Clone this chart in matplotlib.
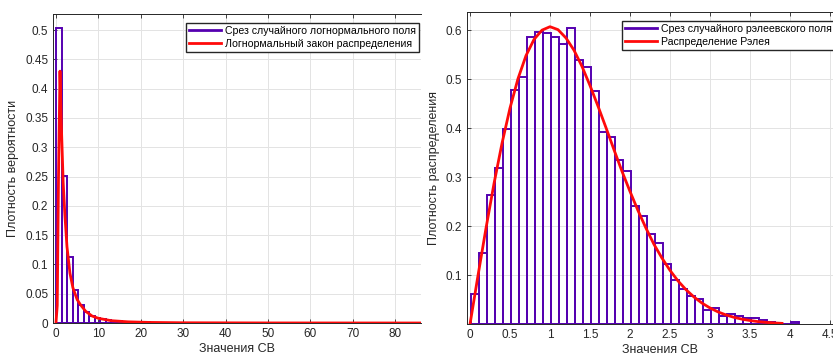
import numpy as np
import matplotlib
matplotlib.use("Agg")
from matplotlib import pyplot as plt
from matplotlib.lines import Line2D

plt.rcParams['font.family'] = ['Liberation Sans', 'DejaVu Sans']

# lognormal slice histogram (bin start, bin width, heights)
logn_start = 0.05
logn_width = 1.3
logn_heights = [0.503, 0.251, 0.113, 0.056, 0.031, 0.019, 0.012, 0.009, 0.006, 0.0045,
                0.0035, 0.0028, 0.0022, 0.0018, 0.0014, 0.0012, 0.001, 0.0008, 0.0006, 0.0005,
                0.0004, 0.0003, 0.0003, 0.0002, 0.0002, 0.0001, 0.0001, 0.0001]

# lognormal pdf
logn_x = [0, 0.3, 0.6, 0.95, 1.3, 1.7, 2.1, 2.6, 3.3, 4.0, 5.0, 5.7, 7.0, 8.5, 10, 13, 17, 22, 30, 50, 86]
logn_y = [0, 0.03, 0.25, 0.43, 0.33, 0.24, 0.185, 0.13, 0.085, 0.06, 0.04, 0.032, 0.02, 0.012,
          0.008, 0.004, 0.002, 0.001, 0.0004, 0.0001, 0]

# rayleigh slice histogram
ray_start = 0.0125
ray_width = 0.1
ray_heights = [0.061, 0.146, 0.264, 0.318, 0.399, 0.478, 0.505, 0.586, 0.596, 0.594,
               0.586, 0.571, 0.605, 0.539, 0.525, 0.475, 0.393, 0.383, 0.335, 0.313,
               0.241, 0.220, 0.184, 0.165, 0.124, 0.091, 0.072, 0.058, 0.052, 0.030,
               0.033, 0.016, 0.020, 0.016, 0.013, 0.013, 0.009, 0.004, 0.0, 0.0, 0.005]

# rayleigh pdf
ray_x = [0, 0.1, 0.2, 0.3, 0.4, 0.5, 0.6, 0.7, 0.8, 0.9, 1.0, 1.1, 1.2, 1.3, 1.4, 1.5, 1.6, 1.7,
         1.8, 1.9, 2.0, 2.1, 2.2, 2.3, 2.4, 2.5, 2.6, 2.7, 2.8, 2.9, 3.0, 3.1, 3.2, 3.3, 3.4, 3.5,
         3.6, 3.7, 3.8, 3.9]
ray_y = [0, 0.0995, 0.196, 0.287, 0.369, 0.441, 0.501, 0.548, 0.581, 0.600, 0.607, 0.601, 0.584,
         0.559, 0.526, 0.487, 0.445, 0.401, 0.356, 0.312, 0.271, 0.232, 0.196, 0.163, 0.135,
         0.110, 0.0885, 0.0706, 0.0556, 0.0432, 0.0333, 0.0253, 0.0191, 0.0142, 0.0105, 0.0077,
         0.0055, 0.0039, 0.0028, 0.0019]

purple = '#5500b0'
red = '#ff0a0a'
W, H = 833, 358

fig = plt.figure(figsize=(W / 100, H / 100), dpi=100)

def style(ax):
    ax.grid(True, color='#e3e3e3', linewidth=0.7)
    ax.set_axisbelow(True)
    for s in ax.spines.values():
        s.set_color('#262626')
        s.set_linewidth(0.7)
    ax.tick_params(direction='in', length=3, width=0.6, colors='#262626',
                   labelsize=8.5, top=True, right=True)

ax1 = fig.add_axes([53 / W, (H - 323) / H, (421 - 53) / W, (323 - 14.3) / H])
style(ax1)
ax1.spines['right'].set_visible(False)
ax1.tick_params(right=False)
edges1 = logn_start + logn_width * np.arange(len(logn_heights))
ax1.bar(edges1, logn_heights, width=logn_width, align='edge', fill=False,
        edgecolor=purple, linewidth=1.4)
ax1.plot(logn_x, logn_y, color=red, linewidth=2)
ax1.set_xlim(-0.7, 86.1)
ax1.set_ylim(0, 0.527)
ax1.set_xticks(np.arange(0, 90, 10))
ax1.set_yticks(np.arange(0, 0.51, 0.05))
ax1.set_yticklabels(['0', '0.05', '0.1', '0.15', '0.2', '0.25', '0.3', '0.35', '0.4', '0.45', '0.5'])
ax1.set_xlabel('Значения СВ', fontsize=9, color='#262626', labelpad=2)
ax1.set_ylabel('Плотность вероятности', fontsize=9, color='#262626', labelpad=4)

h = [Line2D([], [], color=purple, linewidth=2), Line2D([], [], color=red, linewidth=2)]
ax1.legend(h, ['Срез случайного логнормального поля', 'Логнормальный закон распределения'],
           loc='upper left', bbox_to_anchor=(186 / W, 1 - 23 / H), bbox_transform=fig.transFigure,
           borderaxespad=0, fancybox=False, framealpha=1, edgecolor='#262626', fontsize=7.6,
           handlelength=3, borderpad=0.3, labelspacing=0.25, handletextpad=0.4)

ax2 = fig.add_axes([467 / W, (H - 324.3) / H, (852 - 467) / W, (324.3 - 12) / H])
style(ax2)
edges2 = ray_start + ray_width * np.arange(len(ray_heights))
ax2.bar(edges2, ray_heights, width=ray_width, align='edge', fill=False,
        edgecolor=purple, linewidth=1.4)
ax2.plot(ray_x, ray_y, color=red, linewidth=2)
ax2.set_xlim(-0.0375, 4.775)
ax2.set_ylim(0, 0.637)
ax2.set_xticks(np.arange(0, 5, 0.5))
ax2.set_xticklabels(['0', '0.5', '1', '1.5', '2', '2.5', '3', '3.5', '4', '4.5'])
ax2.set_yticks([0.1, 0.2, 0.3, 0.4, 0.5, 0.6])
ax2.set_xlabel('Значения СВ', fontsize=9, color='#262626', labelpad=2)
ax2.set_ylabel('Плотность распределения', fontsize=9, color='#262626', labelpad=4)

ax2.legend(h, ['Срез случайного рэлеевского поля', 'Распределение Рэлея'],
           loc='upper left', bbox_to_anchor=(622 / W, 1 - 21 / H), bbox_transform=fig.transFigure,
           borderaxespad=0, fancybox=False, framealpha=1, edgecolor='#262626', fontsize=7.6,
           handlelength=3, borderpad=0.3, labelspacing=0.25, handletextpad=0.4)

fig.savefig('out.png', dpi=100)
